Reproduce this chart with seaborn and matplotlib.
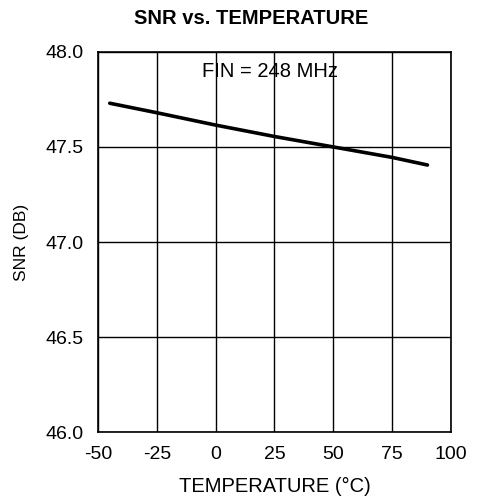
import matplotlib
matplotlib.use("Agg")
import matplotlib.pyplot as plt
import seaborn as sns
import pandas as pd

temperature = [-45, -25, 0, 25, 50, 75, 90]
snr = [47.73, 47.68, 47.615, 47.555, 47.50, 47.445, 47.405]
x_ticks = [-50, -25, 0, 25, 50, 75, 100]
y_ticks = [46.0, 46.5, 47.0, 47.5, 48.0]

sns.set_theme(style="white")
plt.rcParams['font.family'] = ['Liberation Sans', 'DejaVu Sans']

df = pd.DataFrame({"temperature": temperature, "snr": snr})

fig = plt.figure(figsize=(4.78, 4.99), dpi=100)
ax = fig.add_axes([0.205, 0.134, 0.7385, 0.762])
sns.lineplot(data=df, x="temperature", y="snr", ax=ax, color="black", linewidth=2.6)

ax.set_xlim(-50, 100)
ax.set_ylim(46.0, 48.0)
ax.set_xticks(x_ticks)
ax.set_xticklabels([str(v) for v in x_ticks])
ax.set_yticks(y_ticks)
ax.set_yticklabels([f"{v:.1f}" for v in y_ticks])
ax.grid(True, color="black", linewidth=1.0)
for s in ax.spines.values():
    s.set_color("black")
    s.set_linewidth(1.2)
ax.tick_params(axis="x", length=0, labelsize=14, colors="black", pad=10)
ax.tick_params(axis="y", length=0, labelsize=14, colors="black", pad=10)
ax.set_xlabel("TEMPERATURE (°C)", fontsize=14.5, color="black", labelpad=10)
ax.set_ylabel("SNR (DB)", fontsize=12.5, color="black", labelpad=12)
fig.text(0.525, 0.962, "SNR vs. TEMPERATURE", fontsize=14.5, fontweight="bold",
         color="black", ha="center", va="center")
ax.text(23, 47.895, "FIN = 248 MHz", fontsize=14.5, ha="center", va="center", color="black")

fig.savefig("out.png", dpi=100)
